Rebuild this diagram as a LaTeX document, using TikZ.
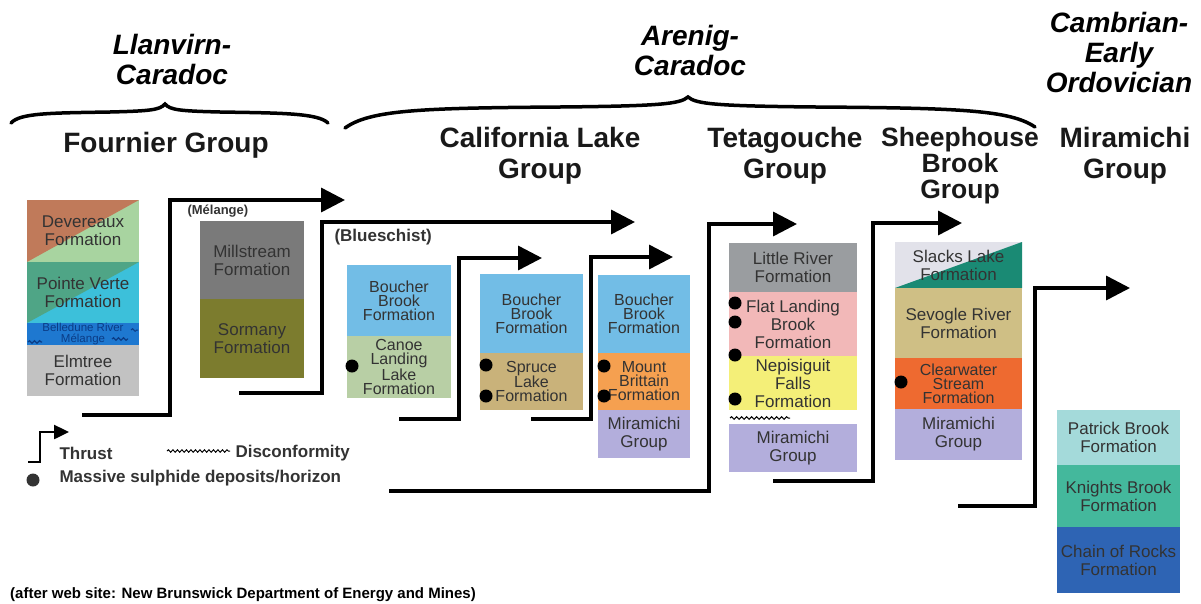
\documentclass[tikz,border=0pt]{standalone}
\usepackage{fontspec}
\setmainfont{Liberation Sans}
\usetikzlibrary{positioning,arrows.meta,decorations.pathmorphing}

\definecolor{ink}{HTML}{333333}
\definecolor{devbrown}{HTML}{C07A5A}
\definecolor{devgreen}{HTML}{A8D4A0}
\definecolor{pvgreen}{HTML}{4FA586}
\definecolor{pvcyan}{HTML}{3CC0DA}
\definecolor{belblue}{HTML}{1E78D0}
\definecolor{belwave}{HTML}{0B3C86}
\definecolor{elmgray}{HTML}{C2C2C2}
\definecolor{millgray}{HTML}{7A7A7A}
\definecolor{sorolive}{HTML}{7C7C2E}
\definecolor{bbblue}{HTML}{72BDE6}
\definecolor{canoegreen}{HTML}{B8CFA5}
\definecolor{sprucetan}{HTML}{C9B27A}
\definecolor{mborange}{HTML}{F5A050}
\definecolor{miralav}{HTML}{B3AEDC}
\definecolor{lrgray}{HTML}{9A9DA0}
\definecolor{flpink}{HTML}{F2B8B8}
\definecolor{nfyellow}{HTML}{F4EF78}
\definecolor{slgray}{HTML}{E2E2EA}
\definecolor{slteal}{HTML}{1A8A74}
\definecolor{svtan}{HTML}{CFBF85}
\definecolor{cworange}{HTML}{EE6A30}
\definecolor{pbcyan}{HTML}{A4DADA}
\definecolor{kbteal}{HTML}{44B89C}
\definecolor{crblue}{HTML}{2E64B4}

\begin{document}
\begin{tikzpicture}[
  x=1pt, y=-1pt,
  unit/.style = {
    rectangle,
    inner sep=1pt,
    outer sep=0pt,
    align=center,
    text=ink,
    font=\fontsize{17}{18}\selectfont
  },
  tight/.style = {font=\fontsize{16}{14}\selectfont},
  upperleft/.style 2 args = {
    fill=#2,
    path picture={\fill[#1] (path picture bounding box.south west)
      |- (path picture bounding box.north east) -- cycle;}
  },
  lowerright/.style 2 args = {
    fill=#1,
    path picture={\fill[#2] (path picture bounding box.south west)
      -| (path picture bounding box.north east) -- cycle;}
  },
  era/.style = {align=center, text=black, font=\bfseries\itshape\fontsize{28}{30}\selectfont},
  group/.style = {align=center, text=black!90, font=\bfseries\fontsize{28}{31}\selectfont},
  note/.style = {text=ink, font=\bfseries\fontsize{17}{19}\selectfont},
  thrust/.style = {line width=3.5pt, -{Triangle[length=24pt,width=24pt]}},
  wave/.style = {decorate, decoration={snake, amplitude=1.3pt, segment length=5pt}, line width=1.2pt},
  brace/.style = {line width=3.5pt, line cap=round}
]
  \useasboundingbox (0,0) rectangle (1201,603);

  % ages and braces
  \node[era] (llanvirn) at (172,59) {Llanvirn-\\Caradoc};
  \node[era] (arenig) at (690,50) {Arenig-\\Caradoc};
  \node[era] (cambrian) at (1119,52) {Cambrian-\\Early\\Ordovician};
  \draw[brace] (11,123) .. controls (20,113) and (50,113) .. (110,112)
    .. controls (150,111) and (160,110) .. (165,104)
    .. controls (170,110) and (180,111) .. (220,112)
    .. controls (280,113) and (318,113) .. (328,123);
  \draw[brace] (345,128) .. controls (370,110) and (420,108) .. (560,107)
    .. controls (660,106) and (680,104) .. (688,97)
    .. controls (696,104) and (716,106) .. (816,107)
    .. controls (960,108) and (1010,110) .. (1035,127);

  % groups
  \node[group] (fournier) at (166,145) {Fournier Group};
  \node[group] (california) at (540,156) {California Lake\\Group};
  \node[group] (tetagouche) at (785,156) {Tetagouche\\Group};
  \node[group, font=\bfseries\fontsize{26.5}{26}\selectfont] (sheephouse) at (960,166) {Sheephouse\\Brook\\Group};
  \node[group] (miramichi) at (1125,156) {Miramichi\\Group};

  % Fournier Group
  \node (devereaux)[unit, upperleft={devbrown}{devgreen}, minimum width=112, minimum height=62,
    anchor=north west] at (27,200) {Devereaux\\Formation};
  \node (pointe)[unit, upperleft={pvgreen}{pvcyan}, below=0pt of devereaux,
    minimum width=112, minimum height=61] {Pointe Verte\\Formation};
  \node (belledune)[unit, fill=belblue, below=0pt of pointe,
    minimum width=112, minimum height=22] {};
  \node (beltext)[text=belwave, align=center, inner sep=0pt,
    font=\fontsize{11.5}{11}\selectfont] at (belledune) {Belledune River\\Mélange};
  \node (elmtree)[unit, fill=elmgray, below=0pt of belledune,
    minimum width=112, minimum height=51] {Elmtree\\Formation};
  \draw[wave, belwave] (28,342) -- (42,342);
  \draw[wave, belwave] (112,339) -- (128,339);
  \draw[wave, belwave, line width=1pt] (131,330) -- (138,330);

  \node (melange)[note, font=\bfseries\fontsize{13}{15}\selectfont, anchor=west] at (184,211) {(Mélange)};
  \node (millstream)[unit, fill=millgray, minimum width=104, minimum height=78,
    anchor=north west] at (200,221) {Millstream\\Formation};
  \node (sormany)[unit, fill=sorolive, below=0pt of millstream,
    minimum width=104, minimum height=79] {Sormany\\Formation};

  % California Lake Group
  \node (blueschist)[note, anchor=west] at (331,237) {(Blueschist)};
  \node (boucherA)[unit, tight, fill=bbblue, minimum width=104, minimum height=71,
    anchor=north west] at (347,265) {Boucher\\Brook\\Formation};
  \node (canoe)[unit, tight, fill=canoegreen, below=0pt of boucherA,
    minimum width=104, minimum height=62] {Canoe\\Landing\\Lake\\Formation};
  \node (boucherB)[unit, tight, fill=bbblue, minimum width=103, minimum height=79,
    anchor=north west] at (480,274) {Boucher\\Brook\\Formation};
  \node (spruce)[unit, tight, fill=sprucetan, below=0pt of boucherB,
    minimum width=103, minimum height=57] {Spruce\\Lake\\Formation};
  \node (boucherC)[unit, tight, fill=bbblue, minimum width=92, minimum height=78,
    anchor=north west] at (598,275) {Boucher\\Brook\\Formation};
  \node (brittain)[unit, tight, fill=mborange, below=0pt of boucherC,
    minimum width=92, minimum height=57] {Mount\\Brittain\\Formation};
  \node (miraA)[unit, fill=miralav, below=0pt of brittain,
    minimum width=92, minimum height=48] {Miramichi\\Group};

  % Tetagouche Group
  \node (little)[unit, fill=lrgray, minimum width=128, minimum height=49,
    anchor=north west] at (729,243) {Little River\\Formation};
  \node (flat)[unit, fill=flpink, below=0pt of little,
    minimum width=128, minimum height=64] {Flat Landing\\Brook\\Formation};
  \node (nepisiguit)[unit, fill=nfyellow, below=0pt of flat,
    minimum width=128, minimum height=54] {Nepisiguit\\Falls\\Formation};
  \node (miraB)[unit, fill=miralav, below=14pt of nepisiguit,
    minimum width=128, minimum height=48] {Miramichi\\Group};
  \draw[wave, line width=1pt] (730,418) -- (790,418);

  % Sheephouse Brook Group
  \node (slacks)[unit, lowerright={slgray}{slteal}, minimum width=127, minimum height=46,
    anchor=north west] at (895,242) {Slacks Lake\\Formation};
  \node (sevogle)[unit, fill=svtan, below=0pt of slacks,
    minimum width=127, minimum height=70] {Sevogle River\\Formation};
  \node (clearwater)[unit, tight, fill=cworange, below=0pt of sevogle,
    minimum width=127, minimum height=51] {Clearwater\\Stream\\Formation};
  \node (miraC)[unit, fill=miralav, below=0pt of clearwater,
    minimum width=127, minimum height=51] {Miramichi\\Group};

  % Miramichi Group
  \node (patrick)[unit, fill=pbcyan, minimum width=123, minimum height=55,
    anchor=north west] at (1057,410) {Patrick Brook\\Formation};
  \node (knights)[unit, fill=kbteal, below=0pt of patrick,
    minimum width=123, minimum height=62] {Knights Brook\\Formation};
  \node (chain)[unit, fill=crblue, below=0pt of knights,
    minimum width=123, minimum height=66] {Chain of Rocks\\Formation};

  % massive sulphide horizons
  \fill[black] (352,366) circle (6.5pt);
  \fill[black] (486,365) circle (6.5pt);
  \fill[black] (486,396) circle (6.5pt);
  \fill[black] (604,366) circle (6.5pt);
  \fill[black] (604,396) circle (6.5pt);
  \fill[black] (735,303) circle (6.5pt);
  \fill[black] (735,322) circle (6.5pt);
  \fill[black] (735,355) circle (6.5pt);
  \fill[black] (735,399) circle (6.5pt);
  \fill[black] (901,382) circle (6.5pt);

  % thrusts
  \coordinate (tA1) at (82,415);   \coordinate (tA2) at (170,200);  \coordinate (tA3) at (345,200);
  \coordinate (tB1) at (239,393);  \coordinate (tB2) at (322,222);  \coordinate (tB3) at (635,222);
  \coordinate (tC1) at (399,419);  \coordinate (tC2) at (459,258);  \coordinate (tC3) at (542,258);
  \coordinate (tD1) at (531,419);  \coordinate (tD2) at (591,257);  \coordinate (tD3) at (673,257);
  \coordinate (tE1) at (389,491);  \coordinate (tE2) at (709,224);  \coordinate (tE3) at (797,224);
  \coordinate (tF1) at (773,481);  \coordinate (tF2) at (873,223);  \coordinate (tF3) at (962,223);
  \coordinate (tG1) at (958,506);  \coordinate (tG2) at (1035,288); \coordinate (tG3) at (1130,288);
  \draw[thrust] (tA1) -| (tA2) -- (tA3);
  \draw[thrust] (tB1) -| (tB2) -- (tB3);
  \draw[thrust] (tC1) -| (tC2) -- (tC3);
  \draw[thrust] (tD1) -| (tD2) -- (tD3);
  \draw[thrust] (tE1) -| (tE2) -- (tE3);
  \draw[thrust] (tF1) -| (tF2) -- (tF3);
  \draw[thrust] (tG1) -| (tG2) -- (tG3);

  % legend
  \coordinate (kA1) at (28,462); \coordinate (kA2) at (40,432); \coordinate (kA3) at (69,432);
  \draw[line width=2.5pt, -{Triangle[length=15pt,width=14pt]}] (kA1) -| (kA2) -- (kA3);
  \node (thrustkey)[note, anchor=west] at (56,453) {Thrust};
  \draw[wave, line width=1pt, decoration={snake, amplitude=1.2pt, segment length=4.5pt}] (167,451) -- (230,451);
  \node (discokey)[note, anchor=west] at (232,453) {Disconformity};
  \fill[ink] (33,480) circle (6.5pt);
  \node (sulphidekey)[note, anchor=west] at (56,478) {Massive sulphide deposits/horizon};

  \node (source)[text=black, font=\bfseries\fontsize{15}{17}\selectfont, anchor=base west, inner sep=0pt]
    at (10,598) {(after web site: New Brunswick Department of Energy and Mines)};
\end{tikzpicture}
\end{document}
